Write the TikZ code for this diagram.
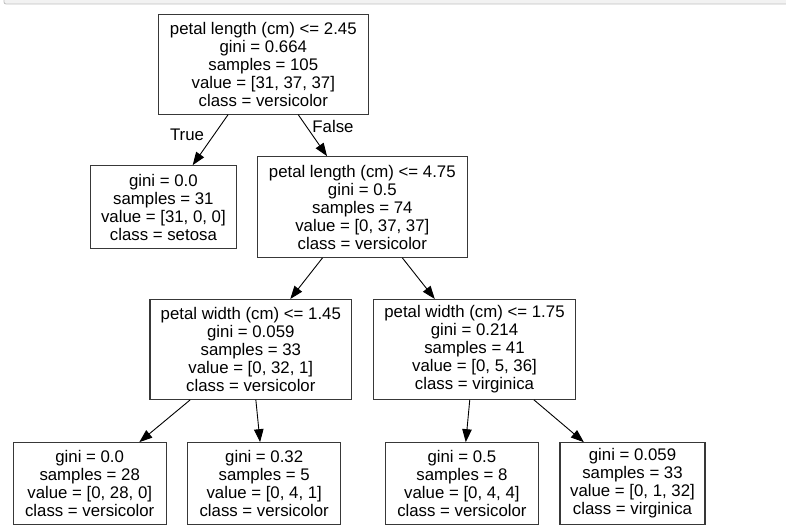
\documentclass[tikz,border=0pt]{standalone}
\usepackage{fontspec}
\setmainfont{Liberation Sans}
\usetikzlibrary{arrows.meta}
\begin{document}
\begin{tikzpicture}[x=1pt,y=-1pt,
  treebox/.style={draw=black!78, line width=1.1pt, align=center, inner sep=0pt,
    font=\fontsize{16.8}{18}\selectfont},
  edge/.style={line width=0.9pt, -{Triangle[length=13pt,width=9.5pt]}},
  elabel/.style={font=\fontsize{16.8}{18}\selectfont, inner sep=0pt}]
\useasboundingbox (0,0) rectangle (786,531);
\fill[black!5] (4,0) rectangle (786,4);
\draw[black!25, line width=0.8pt] (4,0) -- (4,2) to[out=-90,in=180] (6,4) -- (786,4);

\node[treebox, minimum width=210.5pt, minimum height=99.5pt] (root) at (263.3,64.3)
  {petal length (cm) <= 2.45\\gini = 0.664\\samples = 105\\value = [31, 37, 37]\\class = versicolor};
\node[treebox, minimum width=145.3pt, minimum height=82.6pt] (setosa) at (163.4,207)
  {gini = 0.0\\samples = 31\\value = [31, 0, 0]\\class = setosa};
\node[treebox, minimum width=210pt, minimum height=100.6pt] (n2) at (362.3,207)
  {petal length (cm) <= 4.75\\gini = 0.5\\samples = 74\\value = [0, 37, 37]\\class = versicolor};
\node[treebox, minimum width=201.7pt, minimum height=99.8pt] (n3) at (250.8,349.4)
  {petal width (cm) <= 1.45\\gini = 0.059\\samples = 33\\value = [0, 32, 1]\\class = versicolor};
\node[treebox, minimum width=202.4pt, minimum height=99.8pt] (n4) at (474.5,349.4)
  {petal width (cm) <= 1.75\\gini = 0.214\\samples = 41\\value = [0, 5, 36]\\class = virginica};
\node[treebox, minimum width=152.7pt, minimum height=81.6pt] (l1) at (89.7,483.5)
  {gini = 0.0\\samples = 28\\value = [0, 28, 0]\\class = versicolor};
\node[treebox, minimum width=153pt, minimum height=81.6pt] (l2) at (264.2,483.5)
  {gini = 0.32\\samples = 5\\value = [0, 4, 1]\\class = versicolor};
\node[treebox, minimum width=152.3pt, minimum height=81.6pt] (l3) at (461.9,483.5)
  {gini = 0.5\\samples = 8\\value = [0, 4, 4]\\class = versicolor};
\node[treebox, minimum width=145pt, minimum height=81.6pt] (l4) at (632.5,483.5)
  {gini = 0.059\\samples = 33\\value = [0, 1, 32]\\class = virginica};

\draw[edge] (root) -- (setosa);
\draw[edge] (root) -- (n2);
\draw[edge] (n2) -- (n3);
\draw[edge] (n2) -- (n4);
\draw[edge] (n3) -- (l1);
\draw[edge] (n3) -- (l2);
\draw[edge] (n4) -- (l3);
\draw[edge] (n4) -- (l4);

\node[elabel] (ltrue) at (187,135) {True};
\node[elabel] (lfalse) at (333,126) {False};
\end{tikzpicture}
\end{document}
